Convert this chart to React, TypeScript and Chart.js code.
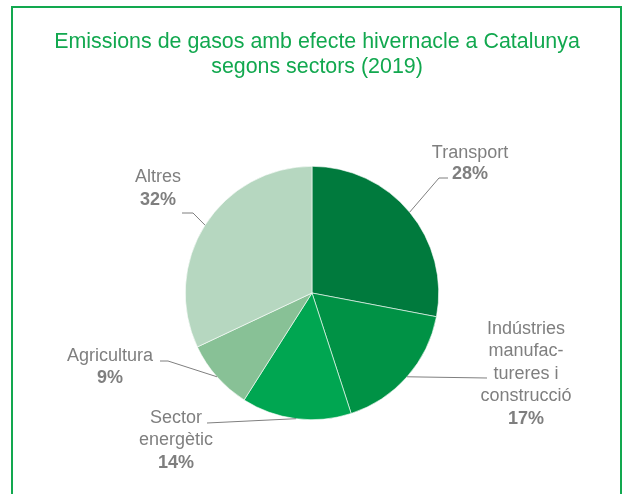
import { useEffect, useRef } from "react";
import { Chart, registerables } from "chart.js";

Chart.register(...registerables);

// ---- data ----
const categories = [
  "Transport",
  "Indústries manufactureres i construcció",
  "Sector energètic",
  "Agricultura",
  "Altres",
];
const values = [28, 17, 14, 9, 32];
const labelLines = [
  ["Transport"],
  ["Indústries", "manufac-", "tureres i", "construcció"],
  ["Sector", "energètic"],
  ["Agricultura"],
  ["Altres"],
];
const titleLines = [
  "Emissions de gasos amb efecte hivernacle a Catalunya",
  "segons sectors (2019)",
];

// ---- styles ----
const sliceColors = ["#007A3D", "#009245", "#00A651", "#88C196", "#B6D7C0"];
const GREEN = "#12A84F";
const GRAY = "#7F7F7F";
const FONT = "'Liberation Sans', Arial, sans-serif";

// label layout, offsets relative to pie centre
const labelLayout = [
  { elbow: [127, -115], end: [136, -115], tx: 158, ty: -140, lh: 21 },
  { elbow: null, end: [175, 85], tx: 214, ty: 36, lh: 22.4 },
  { elbow: null, end: [-105, 130], tx: -136, ty: 125, lh: 22.5 },
  { elbow: [-144, 68], end: [-152, 68], tx: -202, ty: 63, lh: 22 },
  { elbow: [-119, -80], end: [-130, -80], tx: -154, ty: -116, lh: 23 },
];

const decorPlugin = {
  id: "decor",
  afterDraw(chart: any) {
    const ctx = chart.ctx as CanvasRenderingContext2D;
    ctx.save();
    // frame
    ctx.strokeStyle = GREEN;
    ctx.lineWidth = 2;
    ctx.beginPath();
    ctx.moveTo(12, 520);
    ctx.lineTo(12, 7);
    ctx.lineTo(621, 7);
    ctx.lineTo(621, 520);
    ctx.stroke();

    // title
    ctx.fillStyle = GREEN;
    ctx.font = `21.4px ${FONT}`;
    ctx.textAlign = "center";
    ctx.textBaseline = "middle";
    titleLines.forEach((t, i) => ctx.fillText(t, 317, 42 + i * 25));

    // labels
    const meta = chart.getDatasetMeta(0);
    const total = values.reduce((a, b) => a + b, 0);
    meta.data.forEach((arc: any, i: number) => {
      const { x: cx, y: cy, outerRadius: r, startAngle, endAngle } = arc.getProps(
        ["x", "y", "outerRadius", "startAngle", "endAngle"],
        true
      );
      const mid = (startAngle + endAngle) / 2;
      const L = labelLayout[i];
      ctx.strokeStyle = GRAY;
      ctx.lineWidth = 1;
      ctx.beginPath();
      ctx.moveTo(cx + r * Math.cos(mid), cy + r * Math.sin(mid));
      if (L.elbow) ctx.lineTo(cx + L.elbow[0], cy + L.elbow[1]);
      ctx.lineTo(cx + L.end[0], cy + L.end[1]);
      ctx.stroke();

      ctx.fillStyle = GRAY;
      ctx.textAlign = "center";
      ctx.textBaseline = "middle";
      ctx.font = `18px ${FONT}`;
      const lines = labelLines[i];
      lines.forEach((t, j) => ctx.fillText(t, cx + L.tx, cy + L.ty + j * L.lh));
      ctx.font = `bold 18px ${FONT}`;
      const pct = Math.round((values[i] / total) * 100) + "%";
      ctx.fillText(pct, cx + L.tx, cy + L.ty + lines.length * L.lh);
    });
    ctx.restore();
  },
};

export default function App() {
  const ref = useRef<HTMLCanvasElement>(null);
  useEffect(() => {
    if (!ref.current) return;
    const chart = new Chart(ref.current, {
      type: "pie",
      data: {
        labels: categories,
        datasets: [
          {
            data: values,
            backgroundColor: sliceColors,
            borderColor: "#ffffff",
            borderWidth: 0.6,
          },
        ],
      },
      options: {
        animation: false,
        responsive: false,
        layout: { padding: { left: 185, right: 187, top: 166, bottom: 74 } },
        plugins: {
          legend: { display: false },
          title: { display: false },
          tooltip: { enabled: false },
        },
      },
      plugins: [decorPlugin],
    });
    return () => chart.destroy();
  }, []);
  return (
    <div style={{ position: "fixed", left: 0, top: 0, width: 626, height: 494, background: "#fff" }}>
      <canvas ref={ref} width={626} height={494} style={{ width: 626, height: 494 }} />
    </div>
  );
}
